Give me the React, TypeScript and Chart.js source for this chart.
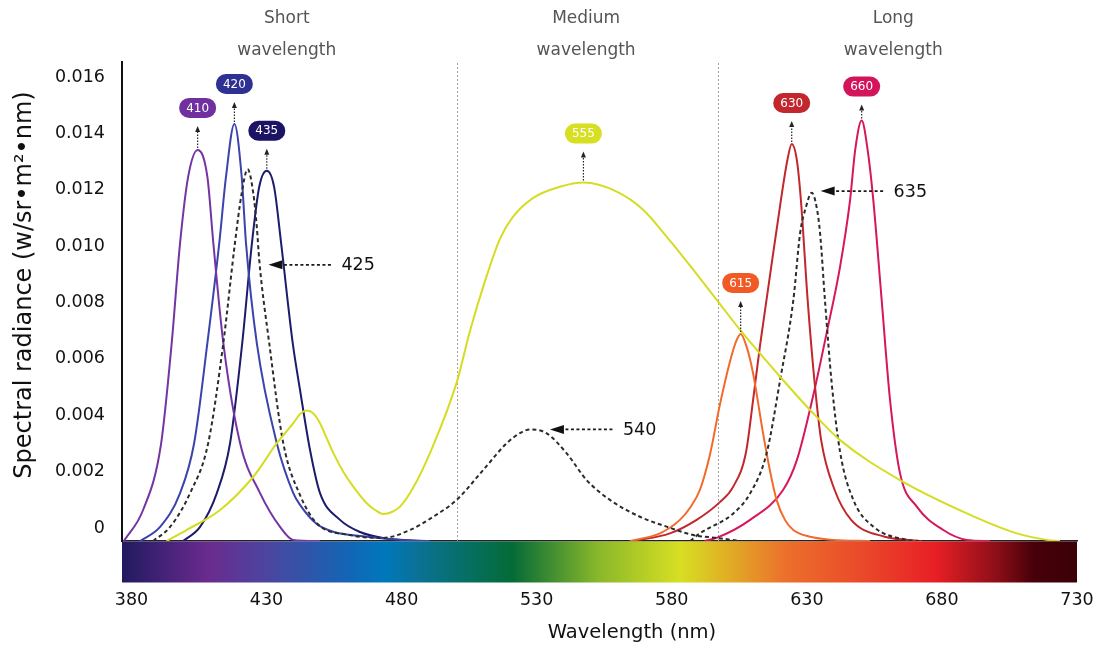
import React, { useEffect, useRef } from 'react';
import { Chart, registerables } from 'chart.js';

Chart.register(...registerables);

const FONT = '"DejaVu Sans", "Noto Sans", sans-serif';

// Axes
const xTicks = [380, 430, 480, 530, 580, 630, 680, 730];
const yTicks = [0, 0.002, 0.004, 0.006, 0.008, 0.01, 0.012, 0.014, 0.016];
const xMin = 376.5;
const xMax = 730;
const yMax = 0.017;

// Regions
const regionDividers = [500.4, 597.2];
const regionNames = ['Short', 'Medium', 'Long'];
const regionCenters = [437.5, 548.3, 662];

// Visible spectrum strip (nm, colour)
const spectrumStops: [number, string][] = [
  [376.5, '#211a60'], [408.3, '#6a2b8e'], [431, '#4a46a0'], [461, '#1266b5'],
  [474, '#0078bb'], [486, '#0b7196'], [503, '#066f66'], [521, '#046b37'],
  [553, '#8ab82a'], [583, '#d7df23'], [604, '#e2a526'], [622.5, '#ec6f2b'],
  [650, '#ea4a2a'], [677.6, '#e81f25'], [700.5, '#8b0e18'], [714, '#470009'], [730, '#3c0007'],
];

// Spectral radiance curves: [wavelength nm, W/sr·m²·nm]
const led410: [number, number][] = [
  [377.2, 0], [384.3, 0.0011], [390.9, 0.00341], [394.9, 0.00703], [398.0, 0.01058],
  [401.0, 0.01293], [404.5, 0.01388], [408.1, 0.01293], [410.3, 0.01058], [414.0, 0.00703],
  [420.2, 0.00348], [427.6, 0.0017], [435.0, 0.0005], [439.8, 0.00004], [449.8, 0],
];
const led420: [number, number][] = [
  [383.2, 0], [390.6, 0.0005], [398.0, 0.0017], [403.2, 0.00347], [408.1, 0.00702],
  [412.5, 0.01057], [415.0, 0.01293], [418.1, 0.0148], [420.8, 0.01293], [422.4, 0.01057],
  [426.4, 0.00702], [433.8, 0.00347], [439.9, 0.0017], [442.4, 0.00128], [448.6, 0.0006],
  [454.6, 0.00033], [467.1, 0.00015], [479.4, 0.00004], [490.5, 0],
];
const led435: [number, number][] = [
  [399.1, 0], [405.4, 0.0005], [411.6, 0.0017], [416.5, 0.00347], [421.0, 0.00702],
  [424.6, 0.01057], [427.3, 0.01257], [430.1, 0.01314], [432.8, 0.01257], [435.4, 0.01057],
  [439.7, 0.00702], [442.4, 0.00536], [446.1, 0.00323], [449.8, 0.0017], [457.2, 0.00075],
  [464.6, 0.00032], [473.1, 0.00011], [486.8, 0],
];
const white425_540: [number, number][] = [
  [388.0, 0], [394.3, 0.0005], [401.7, 0.0017], [408.4, 0.00347], [414.0, 0.00702],
  [418.3, 0.01057], [420.8, 0.01234], [423.0, 0.01319], [425.1, 0.01234], [426.4, 0.01115],
  [427.3, 0.00997], [431.0, 0.00702], [436.2, 0.00347], [442.4, 0.00163], [448.6, 0.00063],
  [460.9, 0.00021], [473.1, 0.00011], [483.1, 0.00039], [491.7, 0.00086], [500.4, 0.00146],
  [510.2, 0.00252], [518.9, 0.00347], [523.8, 0.00383], [527.5, 0.00396], [533.7, 0.00382],
  [541.1, 0.00311], [548.5, 0.00216], [557.1, 0.00146], [568.2, 0.00086], [578.1, 0.00051],
  [588.0, 0.00021], [596.6, 0.00011], [605.2, 0],
];
const led555: [number, number][] = [
  [393.0, 0], [400.4, 0.00039], [412.8, 0.0011], [425.1, 0.00228], [433.8, 0.00347],
  [439.9, 0.00418], [442.4, 0.00451], [445.0, 0.00463], [447.3, 0.00453], [449.8, 0.00418],
  [452.3, 0.00364], [454.8, 0.00311], [458.4, 0.00246], [462.1, 0.00193], [467.1, 0.00134],
  [470.2, 0.0011], [473.2, 0.00096], [476.4, 0.00103], [479.4, 0.00122], [484.2, 0.00188],
  [491.6, 0.00337], [500.4, 0.00563], [505.3, 0.00745], [510.9, 0.00923], [516.4, 0.01072],
  [521.2, 0.0115], [528.6, 0.01217], [538.6, 0.01257], [547.3, 0.01272], [559.6, 0.0124],
  [569.5, 0.01175], [578.1, 0.0108], [588.0, 0.00962], [597.2, 0.00849], [605.3, 0.00749],
  [620.1, 0.00583], [631.2, 0.00465], [642.3, 0.00358], [664.5, 0.00216], [689.2, 0.00098],
  [707.7, 0.00027], [718.8, 0.00004], [723.7, 0],
];
const led615: [number, number][] = [
  [564.5, 0], [575.6, 0.00027], [583.0, 0.00075], [586.7, 0.00117], [590.4, 0.00181],
  [594.1, 0.00305], [597.8, 0.00483], [601.5, 0.00635], [603.7, 0.00706], [605.5, 0.00735],
  [607.7, 0.0069], [610.1, 0.00595], [613.8, 0.00382], [616.3, 0.00252], [618.8, 0.00146],
  [621.9, 0.00075], [625.0, 0.00039], [631.2, 0.00015], [639.8, 0.00004], [653.4, 0],
];
const led630: [number, number][] = [
  [565.8, 0], [579.3, 0.00027], [589.2, 0.00075], [597.8, 0.00138], [602.7, 0.00192],
  [607.5, 0.00316], [610.1, 0.005], [612.7, 0.00696], [615.6, 0.00891], [620.4, 0.0121],
  [622.8, 0.01352], [624.4, 0.01409], [626.3, 0.01352], [627.8, 0.0121], [630.3, 0.00855],
  [632.9, 0.0056], [635.3, 0.00358], [640.3, 0.00181], [646.4, 0.00075], [658.8, 0.00015],
  [667.5, 0.00004], [672.4, 0],
];
const white635: [number, number][] = [
  [586.8, 0], [590.4, 0.00027], [602.8, 0.00098], [609.0, 0.00169], [615.1, 0.00311],
  [620.1, 0.00571], [625.0, 0.00855], [627.5, 0.01092], [629.7, 0.01186], [631.8, 0.01236],
  [633.6, 0.01186], [634.9, 0.01092], [636.7, 0.00855], [639.2, 0.0056], [642.3, 0.00316],
  [647.2, 0.00146], [654.6, 0.00051], [667.0, 0.00004], [671.9, 0],
];
const led660: [number, number][] = [
  [592.2, 0], [596.6, 0.00011], [609.0, 0.00075], [621.2, 0.00181], [626.3, 0.00287],
  [632.4, 0.00518], [637.3, 0.00737], [642.3, 0.00974], [646.0, 0.0121], [647.9, 0.01388],
  [650.3, 0.01492], [652.5, 0.01388], [654.6, 0.0121], [657.7, 0.00855], [660.8, 0.005],
  [664.5, 0.0024], [670.7, 0.00122], [680.5, 0.00039], [689.2, 0.00004], [697.8, 0],
];

const seriesList = [
  { key: '555', data: led555, color: '#d4dd22', dash: [] as number[] },
  { key: '425', data: white425_540, color: '#2b2b2b', dash: [4, 3] },
  { key: '635', data: white635, color: '#2b2b2b', dash: [4, 3] },
  { key: '410', data: led410, color: '#7434a3', dash: [] as number[] },
  { key: '420', data: led420, color: '#3b43ad', dash: [] as number[] },
  { key: '435', data: led435, color: '#1d1c6b', dash: [] as number[] },
  { key: '615', data: led615, color: '#f26a2a', dash: [] as number[] },
  { key: '630', data: led630, color: '#c1272d', dash: [] as number[] },
  { key: '660', data: led660, color: '#d6175e', dash: [] as number[] },
];

// Peak badges (label, series, colour, distance above peak in px)
const peakBadges = [
  { text: '410', series: '410', fill: '#7030a0', gap: 42 },
  { text: '420', series: '420', fill: '#2e3192', gap: 40 },
  { text: '435', series: '435', fill: '#1b1464', gap: 40 },
  { text: '555', series: '555', fill: '#d7df23', gap: 49 },
  { text: '615', series: '615', fill: '#f15a24', gap: 51 },
  { text: '630', series: '630', fill: '#c1272d', gap: 41 },
  { text: '660', series: '660', fill: '#d4145a', gap: 34 },
];

// Arrow call-outs pointing at the dashed curves
const callouts = [
  { text: '425', nm: 430.7, value: 0.0098 },
  { text: '540', nm: 534.9, value: 0.00396 },
  { text: '635', nm: 635.1, value: 0.01242 },
];

function pill(ctx: CanvasRenderingContext2D, x: number, y: number, w: number, h: number) {
  const r = h / 2;
  ctx.beginPath();
  ctx.moveTo(x + r, y);
  ctx.lineTo(x + w - r, y);
  ctx.arc(x + w - r, y + r, r, -Math.PI / 2, Math.PI / 2);
  ctx.lineTo(x + r, y + h);
  ctx.arc(x + r, y + r, r, Math.PI / 2, Math.PI * 1.5);
  ctx.closePath();
}

const decorPlugin = {
  id: 'decor',
  beforeDatasetsDraw(chart: any) {
    const { ctx, chartArea, scales } = chart;
    const x = scales.x;
    const w = chartArea.right - chartArea.left;
    ctx.save();
    const g = ctx.createLinearGradient(chartArea.left, 0, chartArea.right, 0);
    spectrumStops.forEach(([nm, c]) => {
      const t = Math.min(1, Math.max(0, (x.getPixelForValue(nm) - chartArea.left) / w));
      g.addColorStop(t, c);
    });
    ctx.fillStyle = g;
    ctx.fillRect(chartArea.left, chartArea.bottom + 0.5, w, 41);
    ctx.strokeStyle = '#a0a0a0';
    ctx.lineWidth = 1;
    ctx.setLineDash([2, 2]);
    regionDividers.forEach((nm) => {
      const px = Math.round(x.getPixelForValue(nm)) + 0.5;
      ctx.beginPath();
      ctx.moveTo(px, chartArea.top + 1);
      ctx.lineTo(px, chartArea.bottom);
      ctx.stroke();
    });
    ctx.setLineDash([]);
    ctx.fillStyle = '#555';
    ctx.font = `17px ${FONT}`;
    ctx.textAlign = 'center';
    ctx.textBaseline = 'middle';
    regionNames.forEach((name, i) => {
      const px = x.getPixelForValue(regionCenters[i]);
      ctx.fillText(name, px, 19);
      ctx.fillText('wavelength', px, 51);
    });
    ctx.restore();
  },
  afterDatasetsDraw(chart: any) {
    const { ctx, scales } = chart;
    const x = scales.x;
    const y = scales.y;
    ctx.save();
    peakBadges.forEach((b) => {
      const s = seriesList.find((d) => d.key === b.series)!;
      const peak = s.data.reduce((m, p) => (p[1] > m[1] ? p : m), s.data[0]);
      const px = x.getPixelForValue(peak[0]);
      const py = y.getPixelForValue(peak[1]);
      const cy = py - b.gap;
      const bw = 37;
      const bh = 20;
      pill(ctx, px - bw / 2, cy - bh / 2, bw, bh);
      ctx.fillStyle = b.fill;
      ctx.fill();
      ctx.fillStyle = '#fff';
      ctx.font = `12px ${FONT}`;
      ctx.textAlign = 'center';
      ctx.textBaseline = 'middle';
      ctx.fillText(b.text, px, cy + 0.5);
      const tipY = cy + bh / 2 + 8;
      ctx.strokeStyle = '#222';
      ctx.lineWidth = 1.2;
      ctx.setLineDash([1.5, 1.5]);
      ctx.beginPath();
      ctx.moveTo(px, py - 2);
      ctx.lineTo(px, tipY + 5);
      ctx.stroke();
      ctx.setLineDash([]);
      ctx.fillStyle = '#222';
      ctx.beginPath();
      ctx.moveTo(px, tipY);
      ctx.lineTo(px - 2.5, tipY + 6);
      ctx.lineTo(px + 2.5, tipY + 6);
      ctx.closePath();
      ctx.fill();
    });
    callouts.forEach((c) => {
      const px = x.getPixelForValue(c.nm);
      const py = y.getPixelForValue(c.value);
      ctx.strokeStyle = '#1a1a1a';
      ctx.lineWidth = 1.7;
      ctx.setLineDash([3, 2.5]);
      ctx.beginPath();
      ctx.moveTo(px + 10, py);
      ctx.lineTo(px + 64, py);
      ctx.stroke();
      ctx.setLineDash([]);
      ctx.fillStyle = '#111';
      ctx.beginPath();
      ctx.moveTo(px, py);
      ctx.lineTo(px + 14, py - 4.5);
      ctx.lineTo(px + 14, py + 4.5);
      ctx.closePath();
      ctx.fill();
      ctx.font = `17.5px ${FONT}`;
      ctx.textAlign = 'left';
      ctx.textBaseline = 'middle';
      ctx.fillText(c.text, px + 73, py + 1);
    });
    ctx.fillStyle = '#111';
    ctx.textAlign = 'center';
    ctx.textBaseline = 'middle';
    ctx.font = `19.5px ${FONT}`;
    ctx.fillText('Wavelength (nm)', 632, 633);
    ctx.translate(25, 285);
    ctx.rotate(-Math.PI / 2);
    ctx.font = `24px ${FONT}`;
    ctx.fillText('Spectral radiance (w/sr\u2022m\u00b2\u2022nm)', 0, 0);
    ctx.restore();
  },
};

export default function App() {
  const ref = useRef<HTMLCanvasElement>(null);
  useEffect(() => {
    const chart = new Chart(ref.current as HTMLCanvasElement, {
      type: 'line',
      data: {
        datasets: seriesList.map((s) => ({
          label: s.key,
          data: s.data.map(([nm, v]) => ({ x: nm, y: v })),
          borderColor: s.color,
          borderWidth: 2,
          borderDash: s.dash,
          pointRadius: 0,
          fill: false,
          cubicInterpolationMode: 'monotone' as const,
        })),
      },
      options: {
        responsive: false,
        animation: false,
        devicePixelRatio: 1,
        layout: { padding: { top: 62, right: 30, left: 0, bottom: 0 } },
        plugins: { legend: { display: false }, tooltip: { enabled: false } },
        scales: {
          x: {
            type: 'linear',
            min: xMin,
            max: xMax,
            afterBuildTicks: (axis: any) => {
              axis.ticks = xTicks.map((v) => ({ value: v }));
            },
            afterFit: (s: any) => {
              s.height = 109;
              s.paddingLeft = 0;
              s.paddingRight = 0;
            },
            grid: { display: false, drawTicks: false },
            border: { display: true, color: '#222', width: 1.5 },
            ticks: {
              autoSkip: false,
              maxRotation: 0,
              padding: 49,
              color: '#111',
              font: { family: FONT, size: 17.5 },
              callback: (v: any) => String(v),
            },
          },
          y: {
            type: 'linear',
            min: 0,
            max: yMax,
            afterBuildTicks: (axis: any) => {
              axis.ticks = yTicks.map((v) => ({ value: v }));
            },
            afterFit: (s: any) => {
              s.width = 122;
              s.paddingTop = 0;
              s.paddingBottom = 0;
            },
            grid: { display: false, drawTicks: false },
            border: { display: true, color: '#111', width: 2 },
            ticks: {
              autoSkip: false,
              padding: 17,
              labelOffset: -13,
              color: '#111',
              font: { family: FONT, size: 17.5 },
              callback: (v: any) => (Number(v) === 0 ? '0' : Number(v).toFixed(3)),
            },
          },
        },
      },
      plugins: [decorPlugin],
    } as any);
    return () => chart.destroy();
  }, []);
  return (
    <div style={{ position: 'fixed', left: 0, top: 0, width: 1107, height: 650, background: '#fff' }}>
      <canvas ref={ref} width={1107} height={650} style={{ width: 1107, height: 650, display: 'block' }} />
    </div>
  );
}
